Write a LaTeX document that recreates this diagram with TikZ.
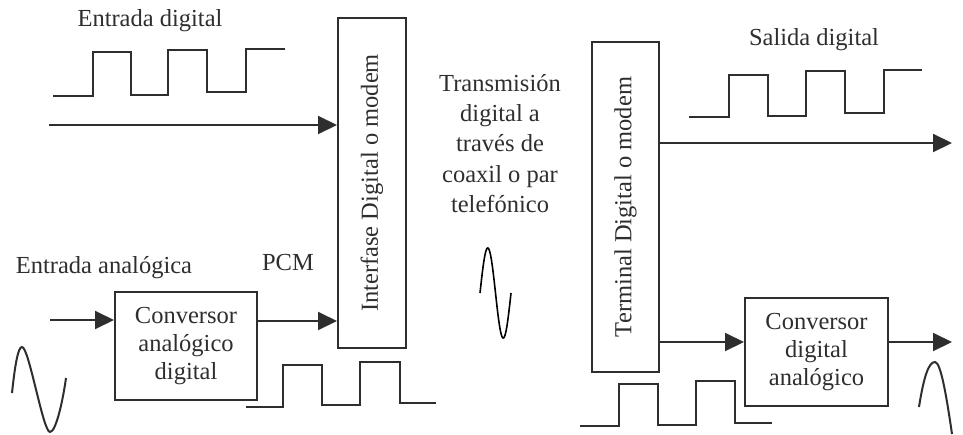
\documentclass[tikz,border=0pt]{standalone}
\usepackage{fontspec}
\setmainfont{Liberation Serif}
\usetikzlibrary{arrows.meta}
\definecolor{ink}{HTML}{2E2E2E}
\tikzset{
  lbl/.style={font=\fontsize{24.5}{30.3}\selectfont, text=ink, inner sep=0pt},
  blk/.style={draw=ink, line width=2pt, font=\fontsize{24.5}{28.3}\selectfont, text=ink, align=center, inner sep=0pt},
  arr/.style={draw=ink, line width=2pt, -{Triangle[length=19pt,width=18pt]}},
  wave/.style={draw=ink, line width=2pt, line join=miter},
  thinwave/.style={draw=black, line width=1.6pt}
}
\begin{document}
\begin{tikzpicture}[x=1pt,y=-1pt]
\useasboundingbox (0,0) rectangle (963,434);
% blocks
\node[blk, rotate=90, minimum width=330pt, minimum height=68pt] (iface) at (372,183) {Interfase Digital o modem};
\node[blk, rotate=90, minimum width=330pt, minimum height=67pt] (term) at (625.5,207) {Terminal Digital o modem};
\node[blk, minimum width=142pt, minimum height=108pt] (adc) at (186,346) {Conversor\\analógico\\digital};
\node[blk, minimum width=143pt, minimum height=108pt] (dac) at (816.5,352) {Conversor\\digital\\analógico};
% labels
\node[lbl, anchor=base] (tin) at (150,26) {Entrada digital};
\node[lbl, anchor=base] (tan) at (104,273) {Entrada analógica};
\node[lbl, anchor=base] (tpcm) at (288,270) {PCM};
\node[lbl, anchor=base] (tout) at (814,45) {Salida digital};
\node[lbl, anchor=north, align=center] (ttx) at (500,74) {Transmisión\\digital a\\través de\\coaxil o par\\telefónico};
% connectors
\coordinate (dIn) at (49,125);
\coordinate (aIn) at (50,320);
\coordinate (dOut) at (952,143);
\coordinate (aOut) at (952,342);
\draw[arr] (dIn) -- (dIn -| iface.north);
\draw[arr] (aIn) -- (aIn -| adc.west);
\draw[arr] (adc.east |- 0,321) -- (iface.north |- 0,321);
\draw[arr] (term.south |- dOut) -- (dOut);
\draw[arr] (term.south |- aOut) -- (dac.west |- aOut);
\draw[arr] (dac.east |- aOut) -- (aOut);
% square waves
\draw[wave] (53,96) -- (93,96) -- (93,52) -- (131,52) -- (131,95) -- (168,95) -- (168,50) -- (207,50) -- (207,92) -- (246,92) -- (246,49) -- (285,49);
\draw[wave] (246,407) -- (283,407) -- (283,365) -- (322,365) -- (322,405) -- (360,405) -- (360,362) -- (400,362) -- (400,403) -- (436,403);
\draw[wave] (689,117) -- (729,117) -- (729,75) -- (768,75) -- (768,116) -- (806,116) -- (806,71) -- (845,71) -- (845,113) -- (884,113) -- (884,70) -- (922,70);
\draw[wave] (580,426) -- (619,426) -- (619,384) -- (658,384) -- (658,425) -- (696,425) -- (696,381) -- (735,381) -- (735,423) -- (772,423);
% analog waves
\draw[wave] (12,393) .. controls (15,365) and (18,347) .. (22,347) .. controls (29,347) and (43,432) .. (50,432) .. controls (56,432) and (63,400) .. (66,378);
\draw[thinwave] plot[domain=0:360, samples=73, smooth] ({480+\x/360*31}, {293-45*sin(\x)});
\draw[wave] (919,407) .. controls (924,375) and (929,362) .. (935,362) .. controls (941,362) and (947,400) .. (952,434);
\end{tikzpicture}
\end{document}
